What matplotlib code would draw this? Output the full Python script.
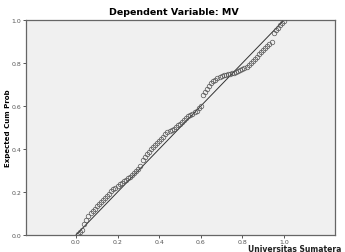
import matplotlib
matplotlib.use('Agg')
import matplotlib.pyplot as plt

# observed cumulative probability (rank based) and expected cumulative probability
observed = [0.01, 0.02, 0.03, 0.04, 0.05, 0.06, 0.07, 0.08, 0.09, 0.10,
            0.11, 0.12, 0.13, 0.14, 0.15, 0.16, 0.17, 0.18, 0.19, 0.20,
            0.21, 0.22, 0.23, 0.24, 0.25, 0.26, 0.27, 0.28, 0.29, 0.30,
            0.31, 0.32, 0.33, 0.34, 0.35, 0.36, 0.37, 0.38, 0.39, 0.40,
            0.41, 0.42, 0.43, 0.44, 0.45, 0.46, 0.47, 0.48, 0.49, 0.50,
            0.51, 0.52, 0.53, 0.54, 0.55, 0.56, 0.57, 0.58, 0.59, 0.60,
            0.61, 0.62, 0.63, 0.64, 0.65, 0.66, 0.67, 0.68, 0.69, 0.70,
            0.71, 0.72, 0.73, 0.74, 0.75, 0.76, 0.77, 0.78, 0.79, 0.80,
            0.81, 0.82, 0.83, 0.84, 0.85, 0.86, 0.87, 0.88, 0.89, 0.90,
            0.91, 0.92, 0.93, 0.94, 0.95, 0.96, 0.97, 0.98, 0.99, 1.00]
expected = [0.005, 0.012, 0.025, 0.050, 0.072, 0.090, 0.103, 0.113, 0.123, 0.133,
            0.143, 0.153, 0.163, 0.173, 0.183, 0.193, 0.203, 0.212, 0.220, 0.228,
            0.236, 0.243, 0.250, 0.258, 0.265, 0.272, 0.280, 0.288, 0.296, 0.305,
            0.320, 0.350, 0.365, 0.378, 0.388, 0.398, 0.408, 0.418, 0.428, 0.438,
            0.448, 0.458, 0.468, 0.477, 0.484, 0.490, 0.495, 0.502, 0.510, 0.518,
            0.527, 0.536, 0.545, 0.553, 0.560, 0.565, 0.570, 0.578, 0.590, 0.600,
            0.650, 0.665, 0.680, 0.695, 0.705, 0.715, 0.720, 0.728, 0.735, 0.738,
            0.742, 0.745, 0.748, 0.750, 0.752, 0.755, 0.758, 0.762, 0.766, 0.770,
            0.775, 0.783, 0.792, 0.801, 0.810, 0.820, 0.830, 0.840, 0.850, 0.860,
            0.870, 0.880, 0.890, 0.900, 0.940, 0.955, 0.965, 0.975, 0.985, 0.995]
ticks = [0.0, 0.2, 0.4, 0.6, 0.8, 1.0]
tick_labels = ['0.0', '0.2', '0.4', '0.6', '0.8', '1.0']

fig = plt.figure(figsize=(3.45, 2.53), dpi=100)
ax = fig.add_axes([0.0754, 0.067, 0.8956, 0.85])
ax.set_facecolor('#f0f0f0')

ax.plot([0, 1], [0, 1], color='#333333', linewidth=0.7, zorder=2)
ax.plot(observed, expected, linestyle='none', marker='o', markersize=3.3,
        markerfacecolor='none', markeredgecolor='#555555', markeredgewidth=0.5, zorder=3)

ax.set_xlim(-0.24, 1.245)
ax.set_ylim(0, 1)
ax.set_xticks(ticks)
ax.set_xticklabels(tick_labels)
ax.set_yticks(ticks)
ax.set_yticklabels(tick_labels)
ax.tick_params(labelsize=4.5, labelcolor='#555555', color='#555555', length=2.2,
               width=0.7, pad=1)
for s in ax.spines.values():
    s.set_color('#666666')
    s.set_linewidth(0.9)

fig.text(0.022, 0.494, 'Expected Cum Prob', rotation=90, ha='center', va='center',
         fontsize=5, fontweight='bold')
fig.text(0.505, 0.95, 'Dependent Variable: MV', ha='center', va='center',
         fontsize=6.8, fontweight='bold')
fig.text(0.72, 0.004, 'Universitas Sumatera', ha='left', va='baseline',
         fontsize=5.5, fontweight='bold', color='#222222')

fig.savefig('out.png', dpi=100)
